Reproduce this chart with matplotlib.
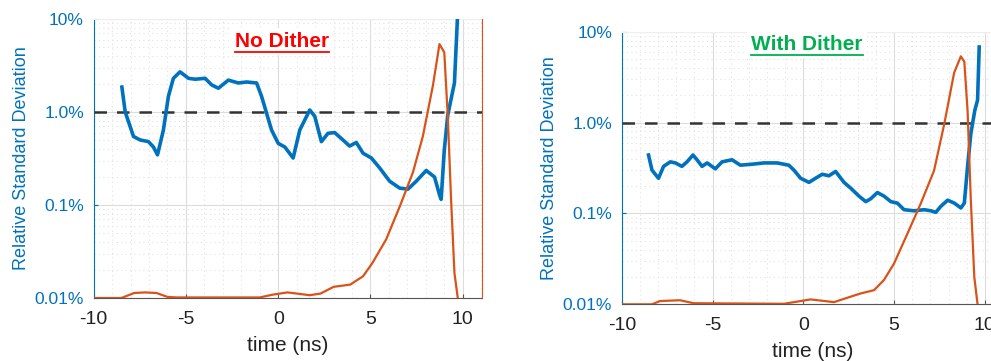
import matplotlib.pyplot as plt
import numpy as np
from matplotlib.ticker import FixedLocator, FixedFormatter, MultipleLocator, LogLocator, NullFormatter
from matplotlib.lines import Line2D

plt.rcParams['font.family'] = ['Liberation Sans', 'DejaVu Sans']

BLUE = '#0072BD'
ORANGE = '#D95319'

# relative std dev (%), no dither
t_nd = [-8.47, -8.29, -7.84, -7.48, -7.03, -6.76, -6.54, -6.22, -5.95, -5.68, -5.32,
        -4.86, -4.5, -3.96, -3.6, -3.24, -2.7, -2.16, -1.71, -1.17, -0.9, -0.63,
        -0.36, 0.0, 0.36, 0.81, 1.17, 1.71, 1.98, 2.34, 2.7, 3.06, 3.51, 3.87,
        4.23, 4.6, 5.05, 5.5, 6.04, 6.58, 7.03, 7.48, 8.02, 8.47, 8.74, 8.83,
        9.0, 9.19, 9.55, 9.73]
rsd_nd = [1.85, 1.0, 0.545, 0.5, 0.48, 0.42, 0.346, 0.64, 1.47, 2.3, 2.7,
          2.3, 2.25, 2.3, 1.95, 1.8, 2.2, 2.05, 2.1, 2.05, 1.47, 0.97,
          0.64, 0.46, 0.42, 0.32, 0.64, 1.05, 0.9, 0.48, 0.59, 0.6, 0.5, 0.43,
          0.47, 0.36, 0.32, 0.25, 0.18, 0.152, 0.148, 0.18, 0.235, 0.2, 0.129, 0.115,
          0.39, 0.93, 2.05, 12.0]

# relative std dev (%), with dither
t_wd = [-8.53, -8.34, -7.98, -7.7, -7.33, -7.05, -6.69, -6.41, -6.08, -5.86, -5.58,
        -5.3, -4.85, -4.48, -3.93, -3.47, -2.73, -2.18, -1.44, -0.8, -0.52, -0.15,
        0.31, 0.67, 1.04, 1.41, 1.78, 2.24, 2.61, 3.07, 3.44, 3.71, 4.08, 4.45,
        4.82, 5.18, 5.55, 6.1, 6.66, 7.03, 7.3, 7.58, 7.95, 8.32, 8.68, 8.87,
        9.05, 9.23, 9.45, 9.6, 9.69]
rsd_wd = [0.44, 0.30, 0.244, 0.33, 0.37, 0.36, 0.33, 0.37, 0.44, 0.39, 0.33,
          0.36, 0.31, 0.37, 0.39, 0.34, 0.35, 0.36, 0.36, 0.34, 0.30, 0.244,
          0.22, 0.244, 0.27, 0.26, 0.29, 0.22, 0.19, 0.155, 0.135, 0.145, 0.17, 0.155,
          0.135, 0.13, 0.11, 0.107, 0.11, 0.107, 0.103, 0.12, 0.14, 0.13, 0.115, 0.13,
          0.33, 0.76, 1.37, 1.77, 6.8]

# normalized pulse waveform
t_p1 = [-10, -8.5, -7.8, -7.2, -6.6, -6.0, -5.5, -1.0, -0.3, 0.5, 1.0, 1.7, 2.3,
        3.0, 3.9, 4.6, 5.1, 5.85, 6.6, 7.3, 7.84, 8.38, 8.74, 9.0, 9.19, 9.37,
        9.55, 9.73]
pulse1 = [0.0, 0.0, 0.018, 0.02, 0.018, 0.004, 0.002, 0.002, 0.012, 0.02, 0.016,
          0.01, 0.016, 0.04, 0.048, 0.078, 0.125, 0.21, 0.33, 0.45, 0.58, 0.76,
          0.91, 0.88, 0.65, 0.35, 0.09, 0.0]
t_p2 = [-10, -8.34, -7.9, -6.8, -6.04, -1.07, -0.15, 0.4, 1.69, 2.42, 3.16, 3.9,
        4.45, 5.0, 5.74, 6.47, 7.2, 7.76, 8.31, 8.68, 8.87, 9.05, 9.23, 9.42, 9.6]
pulse2 = [0.0, 0.0, 0.012, 0.015, 0.004, 0.002, 0.012, 0.018, 0.008, 0.024, 0.04,
          0.052, 0.09, 0.15, 0.26, 0.37, 0.49, 0.66, 0.85, 0.91, 0.89, 0.71, 0.38,
          0.10, 0.0]

fig = plt.figure(figsize=(9.91, 3.61), dpi=100)


def panel(rect, t, rsd, tp, pulse, title, tcolor, ty):
    ax = fig.add_axes(rect)
    ax.set_yscale('log')
    ax.set_xlim(-10, 11.05)
    ax.set_ylim(0.01, 10)
    ax.yaxis.set_major_locator(FixedLocator([0.01, 0.1, 1, 10]))
    ax.yaxis.set_major_formatter(FixedFormatter(['0.01%', '0.1%', '1.0%', '10%']))
    ax.yaxis.set_minor_locator(LogLocator(base=10, subs=np.arange(2, 10)))
    ax.yaxis.set_minor_formatter(NullFormatter())
    ax.set_xticks([-10, -5, 0, 5, 10])
    ax.set_xticklabels(['-10', '-5', '0', '5', '10'])
    ax.xaxis.set_minor_locator(MultipleLocator(1))
    ax.grid(True, which='major', color='#dcdcdc', lw=0.8)
    ax.grid(True, which='minor', color='#e2e2e2', lw=0.8, ls=(0, (1, 3)))
    ax.set_axisbelow(True)
    ax.tick_params(axis='y', which='major', colors=BLUE, labelsize=12.5, length=3,
                   direction='in', pad=7)
    ax.tick_params(axis='x', which='major', colors='#555555', labelcolor='#222222',
                   labelsize=14, length=3, direction='in', pad=9)
    ax.tick_params(which='minor', length=0)
    ax.spines['left'].set_color(BLUE)
    ax.spines['bottom'].set_color('#555555')
    ax.spines['top'].set_color('#eeeeee')
    ax.spines['right'].set_visible(False)
    ax.set_ylabel('Relative Standard Deviation', color=BLUE, fontsize=13, labelpad=3.5)
    ax.set_xlabel('time (ns)', fontsize=15, color='#222222', labelpad=6)
    ax.axhline(1.0, color='#333333', ls=(0, (5, 4)), lw=1.8, zorder=3)
    ax.plot(t, rsd, color=BLUE, lw=2.6, zorder=4, solid_joinstyle='round')

    ax2 = ax.twinx()
    ax2.set_ylim(0, 1)
    ax2.set_yticks([])
    for s in ['left', 'top', 'bottom']:
        ax2.spines[s].set_visible(False)
    ax2.spines['right'].set_color(ORANGE)
    ax2.plot(tp, pulse, color=ORANGE, lw=1.6, zorder=2)

    txt = ax2.text(0.485, ty, title, transform=ax.transAxes, ha='center', va='center',
                   fontsize=15, fontweight='bold', color=tcolor, zorder=6,
                   bbox=dict(facecolor='white', edgecolor='none', pad=3))
    return ax, ax2, txt


ax_l, ax_l2, title_l = panel([0.0945, 0.1745, 0.392, 0.773], t_nd, rsd_nd, t_p1, pulse1,
                             'No Dither', '#ff0000', 0.92)
ax_r, ax_r2, title_r = panel([0.6275, 0.157, 0.3855, 0.755], t_wd, rsd_wd, t_p2, pulse2,
                             'With Dither', '#00b050', 0.955)

# underline the panel titles
fig.canvas.draw()
inv = fig.transFigure.inverted()
for txt in (title_l, title_r):
    bb = txt.get_window_extent()
    (x0, y0), (x1, _) = inv.transform([(bb.x0, bb.y0 - 1), (bb.x1, bb.y0)])
    fig.add_artist(Line2D([x0, x1], [y0, y0], transform=fig.transFigure,
                          color=txt.get_color(), lw=1.3))

fig.savefig('out.png', dpi=100)
